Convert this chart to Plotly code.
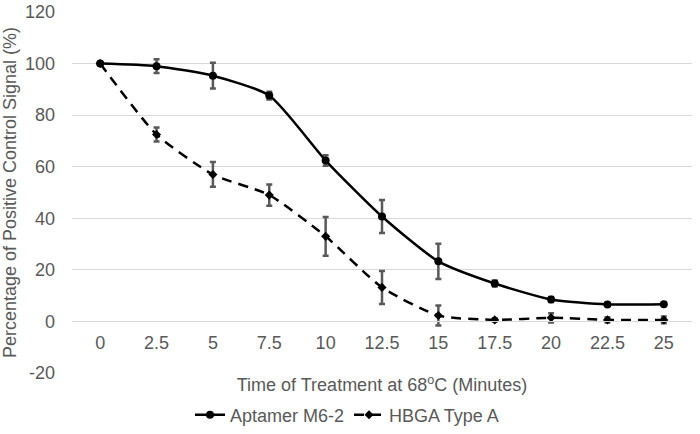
import plotly.graph_objects as go

time = [0, 2.5, 5, 7.5, 10, 12.5, 15, 17.5, 20, 22.5, 25]
tick_text = ["0", "2.5", "5", "7.5", "10", "12.5", "15", "17.5", "20", "22.5", "25"]
y_ticks = [-20, 0, 20, 40, 60, 80, 100, 120]
y_tick_text = ["-20", "0", "20", "40", "60", "80", "100", "120"]
aptamer = [100, 99, 95.3, 87.6, 62.4, 40.7, 23.3, 14.7, 8.5, 6.6, 6.7]
aptamer_err = [0, 2.7, 5, 1.5, 2, 6.4, 6.8, 1.2, 1, 0.5, 0.5]
hbga = [100, 72.5, 57, 49, 33, 13.2, 2.3, 0.6, 1.4, 0.6, 0.6]
hbga_err = [0, 2.7, 4.8, 4.1, 7.5, 6.4, 3.9, 0.6, 1.8, 1, 1.3]

grey = "#595959"
font = "Liberation Sans, Arial, sans-serif"
fs = 18

fig = go.Figure()
fig.add_trace(go.Scatter(
    x=time, y=aptamer, name="Aptamer M6-2", mode="lines+markers",
    line=dict(color="black", width=2.5, shape="spline", smoothing=0.6),
    marker=dict(symbol="circle", size=8, color="black"),
    error_y=dict(type="data", array=aptamer_err, visible=True, color=grey, thickness=2.5, width=3),
))
fig.add_trace(go.Scatter(
    x=time, y=hbga, name="HBGA Type A", mode="lines+markers",
    line=dict(color="black", width=2.5, dash="10px,7px", shape="spline", smoothing=0.6),
    marker=dict(symbol="diamond", size=7, color="black"),
    error_y=dict(type="data", array=hbga_err, visible=True, color=grey, thickness=2.5, width=3),
))

fig.update_layout(
    width=700, height=434,
    margin=dict(l=72, r=8, t=12, b=61),
    paper_bgcolor="white", plot_bgcolor="white",
    font=dict(family=font, size=fs, color=grey),
    showlegend=True,
    legend=dict(orientation="h", xref="container", yref="container",
                x=0.4957, xanchor="center", y=0.0438, yanchor="middle",
                font=dict(size=fs, color=grey), itemwidth=30, tracegroupgap=0),
    xaxis=dict(
        range=[-1.25, 26.25], tickvals=time, ticktext=tick_text,
        anchor="free", position=1/7, showgrid=False, zeroline=False,
        showline=True, linecolor="#d9d9d9", linewidth=1, ticks="",
        ticklabelstandoff=5, automargin=False,
        tickfont=dict(size=fs, color=grey),
        title=dict(text="Time of Treatment at 68<sup>o</sup>C (Minutes)", standoff=26,
                   font=dict(size=fs, color=grey)),
    ),
    yaxis=dict(
        range=[-20, 120], tickvals=y_ticks, ticktext=y_tick_text,
        showgrid=True, gridcolor="#d9d9d9", gridwidth=1, zeroline=False,
        showline=False, ticks="", automargin=False, ticklabelstandoff=16,
        tickfont=dict(size=fs, color=grey),
        title=dict(text="Percentage of Positive Control Signal (%)", standoff=4,
                   font=dict(size=fs, color=grey)),
    ),
)

fig.write_html("out.html", config={"displayModeBar": False},
               post_script="document.body.style.margin='0';")
